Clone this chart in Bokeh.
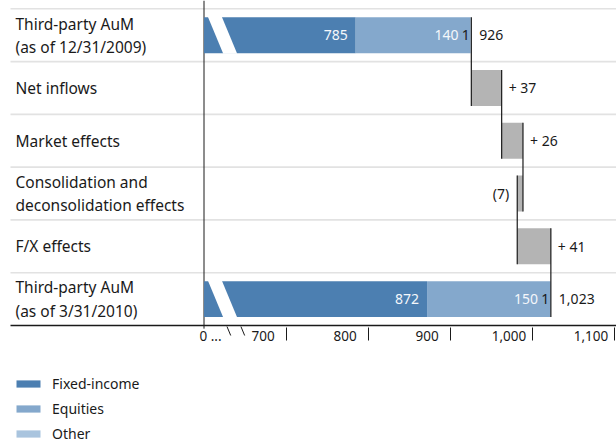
import numpy as np
from bokeh.plotting import figure
from bokeh.models import (Range1d, FixedTicker, ColumnDataSource, LinearAxis,
                          Legend, LegendItem)
from bokeh.core.properties import value
from bokeh.embed import file_html
from bokeh.resources import INLINE

# ---------------- data ----------------
CATEGORIES = [
    "Third-party AuM\n(as of 12/31/2009)",
    "Net inflows",
    "Market effects",
    "Consolidation and\ndeconsolidation effects",
    "F/X effects",
    "Third-party AuM\n(as of 3/31/2010)",
]
SERIES = ["Fixed-income", "Equities", "Other"]
START_BREAKDOWN = [785, 140, 1]
END_BREAKDOWN = [872, 150, 1]
START_TOTAL = 926
END_TOTAL = 1023
START_TOTAL_LABEL = "926"
END_TOTAL_LABEL = "1,023"
CHANGES = [37, 26, -7, 41]
CHANGE_LABELS = ["+ 37", "+ 26", "(7)", "+ 41"]
TICK_VALUES = [700, 800, 900, 1000, 1100]
TICK_LABELS = ["700", "800", "900", "1,000", "1,100"]
ZERO_LABEL = "0 ..."

# ---------------- style / layout ----------------
FONT = "Noto Sans"
COLORS = ["#4c7fb1", "#84a8cc", "#a9c4de"]
CHANGE_COLOR = "#b4b4b4"
GRID_COLOR = "#e2e2e2"
INK = "#1a1a1a"
INBAR_TEXT = "#f4f7fb"

W, H = 616, 444
PX_PER_X = 0.82                  # pixels per value unit
PX_PER_ROW = 52.78               # pixels per category row
X_START = 288.5 / PX_PER_X
X_END = X_START + W / PX_PER_X
Y_END = 6 + 8.3 / PX_PER_ROW
Y_START = Y_END - H / PX_PER_ROW

BREAK_VALUE = 600               # where the broken scale shows 0
N = len(CATEGORIES)
BAR_H = 0.68
BREAK_AT, BREAK_HALF, BREAK_SLOPE = 622.6, 8.5, 26.8
LABEL_SHIFT = 28
LINE_START = X_START + 10 / PX_PER_X

yc = np.array([N - 0.5 - i for i in range(N)])

p = figure(width=W, height=H,
           x_range=Range1d(X_START, X_END), y_range=Range1d(Y_START, Y_END),
           output_backend="svg", toolbar_location=None,
           x_axis_location=None, y_axis_location=None,
           min_border=0, outline_line_color=None)
p.grid.visible = False

# row separators
sep_y = list(range(1, N + 1))
p.segment(x0=[LINE_START] * N, y0=sep_y, x1=[X_END] * N, y1=sep_y,
          line_color=GRID_COLOR, line_width=1.6)

# vertical zero line
p.segment(x0=[BREAK_VALUE], y0=[-0.06], x1=[BREAK_VALUE], y1=[Y_END],
          line_color=INK, line_width=1)

# category labels
p.text(x=[X_START] * N, y=yc, text=CATEGORIES, x_offset=15,
       text_align="left", text_baseline="middle", text_font=value(FONT),
       text_font_size="15.5px", text_line_height=1.06, text_color=INK)

# stacked total bars (first and last rows)
def stack(vals):
    right = np.cumsum(vals)
    left = np.maximum(right - np.array(vals), BREAK_VALUE)
    return left, right

sl, sr = stack(START_BREAKDOWN)
el, er = stack(END_BREAKDOWN)
tot_y = [yc[0], yc[-1]]
bar_renderers = []
for k, (name, color) in enumerate(zip(SERIES, COLORS)):
    src = ColumnDataSource(dict(y=tot_y, left=[sl[k], el[k]], right=[sr[k], er[k]]))
    r = p.hbar(y="y", left="left", right="right", height=BAR_H, source=src,
               fill_color=color, line_color=None)
    bar_renderers.append(r)

# break band through total bars
for y0 in tot_y:
    yt, yb = y0 + BAR_H / 2 + 0.01, y0 - BAR_H / 2 - 0.01
    xt = BREAK_AT + (y0 - yt) * BREAK_SLOPE
    xb = BREAK_AT + (y0 - yb) * BREAK_SLOPE
    p.patch(x=[xt - BREAK_HALF, xt + BREAK_HALF, xb + BREAK_HALF, xb - BREAK_HALF],
            y=[yt, yt, yb, yb], fill_color="white", line_color=None)

# break marks under the axis
ya, yb2 = -0.02, -0.19
bx0, bx1 = [], []
for side in (-1, 1):
    bx0.append(BREAK_AT + (yc[-1] - ya) * BREAK_SLOPE + side * BREAK_HALF)
    bx1.append(BREAK_AT + (yc[-1] - yb2) * BREAK_SLOPE + side * BREAK_HALF)
p.segment(x0=bx0, y0=[ya, ya], x1=bx1, y1=[yb2, yb2], line_color=INK, line_width=1)

# labels inside total bars
inbar_offsets = [-8, -12, -1.5]
inbar_colors = [INBAR_TEXT, INBAR_TEXT, INK]
for k in range(3):
    p.text(x=[sr[k], er[k]], y=tot_y,
           text=[str(START_BREAKDOWN[k]), str(END_BREAKDOWN[k])],
           x_offset=inbar_offsets[k], text_align="right", text_baseline="middle",
           text_font=value(FONT), text_font_size="14px", text_color=inbar_colors[k])

# total labels
p.text(x=[START_TOTAL, END_TOTAL], y=tot_y, text=[START_TOTAL_LABEL, END_TOTAL_LABEL],
       x_offset=8, text_align="left", text_baseline="middle",
       text_font=value(FONT), text_font_size="14px", text_color=INK)

# change boxes
cum = START_TOTAL + np.cumsum(CHANGES)
prev = np.concatenate([[START_TOTAL], cum[:-1]])
chg_y = yc[1:N - 1]
p.hbar(y=chg_y, left=np.minimum(prev, cum), right=np.maximum(prev, cum), height=BAR_H,
       fill_color=CHANGE_COLOR, line_color=None)

pos = [i for i, c in enumerate(CHANGES) if c >= 0]
neg = [i for i, c in enumerate(CHANGES) if c < 0]
p.text(x=[cum[i] for i in pos], y=[chg_y[i] for i in pos], text=[CHANGE_LABELS[i] for i in pos],
       x_offset=7, text_align="left", text_baseline="middle",
       text_font=value(FONT), text_font_size="14px", text_color=INK)
p.text(x=[cum[i] for i in neg], y=[chg_y[i] for i in neg], text=[CHANGE_LABELS[i] for i in neg],
       x_offset=-8, text_align="right", text_baseline="middle",
       text_font=value(FONT), text_font_size="14px", text_color=INK)

# connectors
levels = np.concatenate([[START_TOTAL], cum])
p.segment(x0=levels, y0=yc[:N - 1] + BAR_H / 2, x1=levels, y1=yc[1:] - BAR_H / 2,
          line_color=INK, line_width=1.2)

# axis: line + tick marks
tick_axis = LinearAxis(fixed_location=0, bounds=(LINE_START, X_END),
                       ticker=FixedTicker(ticks=TICK_VALUES),
                       major_label_overrides={v: "" for v in TICK_VALUES},
                       axis_line_color=INK, axis_line_width=1.3,
                       major_tick_out=15, major_tick_in=-2,
                       major_tick_line_color=INK, major_tick_line_width=1,
                       minor_tick_line_color=None)
p.add_layout(tick_axis, "below")

# axis: tick labels (set to the left of each tick mark)
label_pos = [BREAK_VALUE + 8] + [v - LABEL_SHIFT for v in TICK_VALUES]
label_axis = LinearAxis(fixed_location=0,
                        ticker=FixedTicker(ticks=label_pos),
                        major_label_overrides={m: t for m, t in zip(label_pos, [ZERO_LABEL] + TICK_LABELS)},
                        axis_line_color=None, major_tick_line_color=None,
                        minor_tick_line_color=None, major_tick_out=0, major_tick_in=0,
                        major_label_standoff=2, major_label_text_font=FONT,
                        major_label_text_font_size="13.5px", major_label_text_color=INK)
p.add_layout(label_axis, "below")

# legend
items = [LegendItem(label=name, renderers=[r]) for name, r in zip(SERIES, bar_renderers)]
legend = Legend(items=items, location=(13, 1), margin=0, padding=0, spacing=5,
                glyph_width=30, glyph_height=9, label_standoff=9, label_height=20,
                border_line_color=None, background_fill_alpha=0,
                label_text_font=FONT, label_text_font_size="14px", label_text_color=INK)
p.add_layout(legend)

open("out.html", "w").write(file_html(p, INLINE))
